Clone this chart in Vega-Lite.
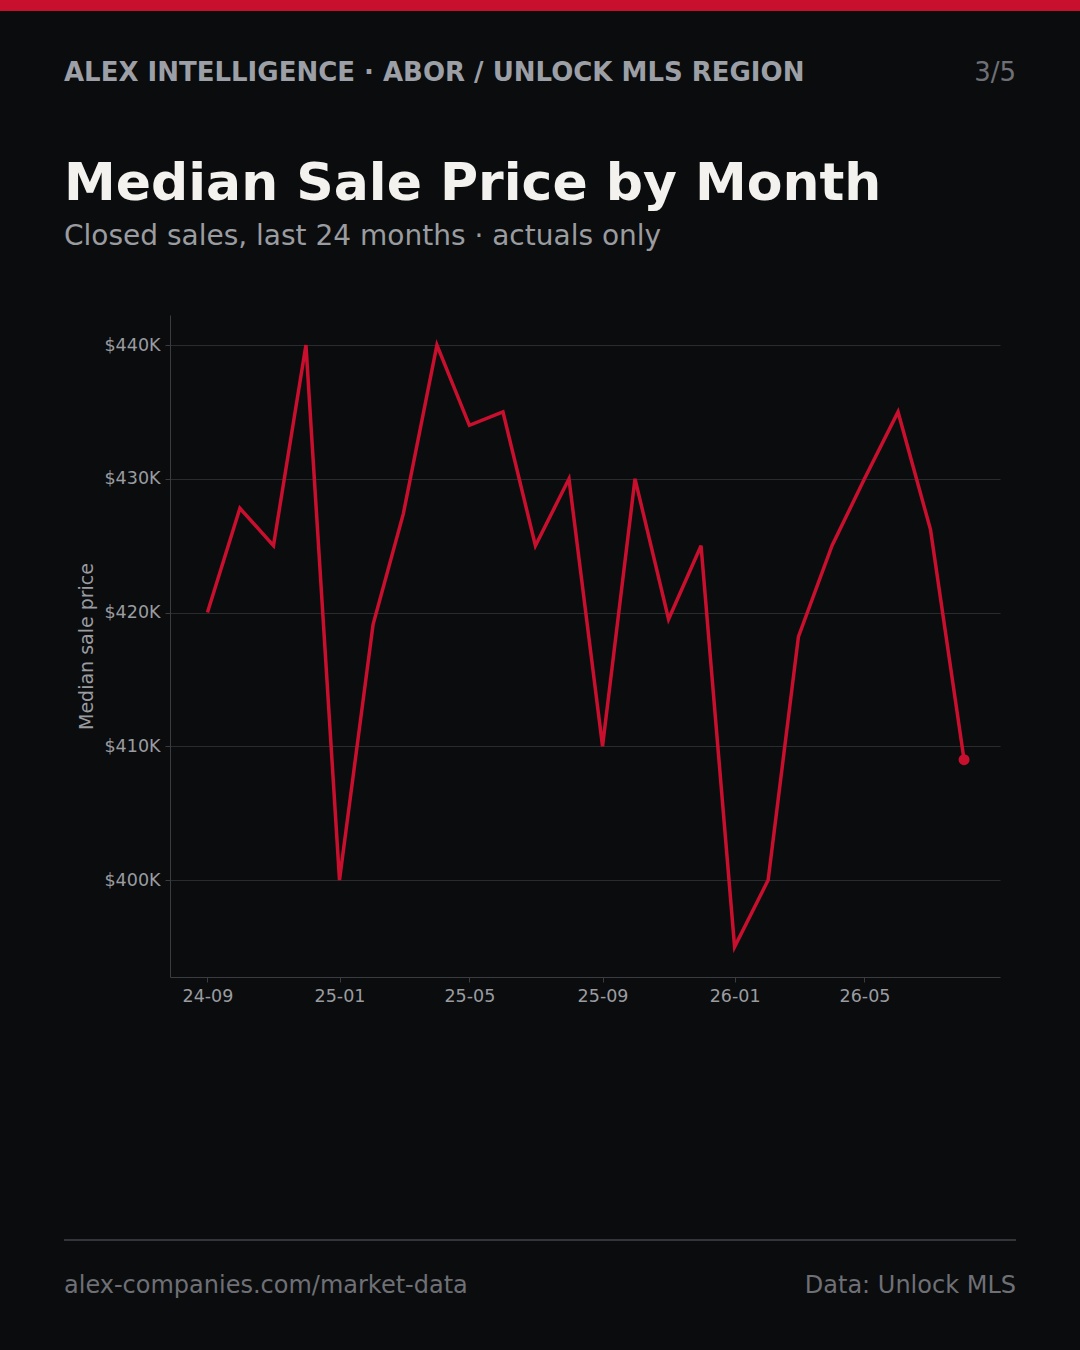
{
  "$schema": "https://vega.github.io/schema/vega-lite/v6.json",
  "width": 830,
  "height": 662,
  "autosize": {"type": "none"},
  "padding": {"left": 170, "top": 315, "right": 80, "bottom": 373},
  "background": "#0b0c0e",
  "config": {
    "font": "DejaVu Sans",
    "view": {"stroke": null}
  },
  "datasets": {
    "prices": [
      {"month": "2024-09-01", "price": 420000},
      {"month": "2024-10-01", "price": 427800},
      {"month": "2024-11-01", "price": 425000},
      {"month": "2024-12-01", "price": 440000},
      {"month": "2025-01-01", "price": 400000},
      {"month": "2025-02-01", "price": 419100},
      {"month": "2025-03-01", "price": 427400},
      {"month": "2025-04-01", "price": 440000},
      {"month": "2025-05-01", "price": 434000},
      {"month": "2025-06-01", "price": 435000},
      {"month": "2025-07-01", "price": 425000},
      {"month": "2025-08-01", "price": 430000},
      {"month": "2025-09-01", "price": 410000},
      {"month": "2025-10-01", "price": 430000},
      {"month": "2025-11-01", "price": 419500},
      {"month": "2025-12-01", "price": 425000},
      {"month": "2026-01-01", "price": 395000},
      {"month": "2026-02-01", "price": 400000},
      {"month": "2026-03-01", "price": 418200},
      {"month": "2026-04-01", "price": 425000},
      {"month": "2026-05-01", "price": 430000},
      {"month": "2026-06-01", "price": 435000},
      {"month": "2026-07-01", "price": 426200},
      {"month": "2026-08-01", "price": 409000}
    ]
  },
  "layer": [
    {
      "data": {"name": "prices"},
      "mark": {"type": "line", "color": "#c8102e", "strokeWidth": 3.5, "strokeJoin": "miter"},
      "encoding": {
        "x": {
          "field": "month",
          "type": "temporal",
          "scale": {"type": "utc", "domain": [1722159360000, 1788410880000], "nice": false},
          "axis": {
            "values": [1725148800000, 1735689600000, 1746057600000, 1756684800000, 1767225600000, 1777593600000],
            "labelExpr": "utcFormat(datum.value, '%y-%m')",
            "labelAngle": 0,
            "labelFontSize": 17.5,
            "labelColor": "#9a9ca0",
            "labelPadding": 5,
            "labelFlush": false,
            "labelOverlap": false,
            "tickSize": 5,
            "tickColor": "#3a3c40",
            "domainColor": "#3a3c40",
            "grid": false,
            "title": null
          }
        },
        "y": {
          "field": "price",
          "type": "quantitative",
          "scale": {"domain": [392750, 442250], "nice": false, "zero": false},
          "axis": {
            "values": [400000, 410000, 420000, 430000, 440000],
            "labelExpr": "'$' + format(datum.value / 1000, 'd') + 'K'",
            "labelFontSize": 17.5,
            "labelColor": "#9a9ca0",
            "labelPadding": 5,
            "tickSize": 5,
            "tickColor": "#3a3c40",
            "domainColor": "#3a3c40",
            "gridColor": "#2a2b2e",
            "title": "Median sale price",
            "titleFontSize": 19,
            "titleFontWeight": "normal",
            "titleColor": "#9a9ca0",
            "titlePadding": 7
          }
        }
      }
    },
    {
      "data": {"name": "prices"},
      "transform": [{"filter": "utcyear(datum.month) == 2026 && utcmonth(datum.month) == 7"}],
      "mark": {"type": "point", "filled": true, "color": "#c8102e", "size": 120, "opacity": 1},
      "encoding": {
        "x": {"field": "month", "type": "temporal"},
        "y": {"field": "price", "type": "quantitative"}
      }
    },
    {
      "data": {"values": [{}]},
      "mark": {"type": "rect", "color": "#c8102e"},
      "encoding": {
        "x": {"value": -170},
        "x2": {"value": 910},
        "y": {"value": -315},
        "y2": {"value": -304}
      }
    },
    {
      "data": {"values": [{}]},
      "mark": {"type": "text", "text": "ALEX INTELLIGENCE · ABOR / UNLOCK MLS REGION", "align": "left", "baseline": "alphabetic", "fontSize": 26, "fontWeight": "bold", "color": "#9ca0a6"},
      "encoding": {"x": {"value": -106}, "y": {"value": -234}}
    },
    {
      "data": {"values": [{}]},
      "mark": {"type": "text", "text": "3/5", "align": "right", "baseline": "alphabetic", "fontSize": 26, "color": "#6e7075"},
      "encoding": {"x": {"value": 846}, "y": {"value": -234}}
    },
    {
      "data": {"values": [{}]},
      "mark": {"type": "text", "text": "Median Sale Price by Month", "align": "left", "baseline": "alphabetic", "fontSize": 52, "fontWeight": "bold", "color": "#f3f2ee"},
      "encoding": {"x": {"value": -106}, "y": {"value": -115}}
    },
    {
      "data": {"values": [{}]},
      "mark": {"type": "text", "text": "Closed sales, last 24 months · actuals only", "align": "left", "baseline": "alphabetic", "fontSize": 28, "color": "#9a9ca0"},
      "encoding": {"x": {"value": -106}, "y": {"value": -70}}
    },
    {
      "data": {"values": [{}]},
      "mark": {"type": "rule", "color": "#333539", "strokeWidth": 2},
      "encoding": {"x": {"value": -106}, "x2": {"value": 846}, "y": {"value": 925}}
    },
    {
      "data": {"values": [{}]},
      "mark": {"type": "text", "text": "alex-companies.com/market-data", "align": "left", "baseline": "alphabetic", "fontSize": 24, "color": "#6e7075"},
      "encoding": {"x": {"value": -106}, "y": {"value": 978}}
    },
    {
      "data": {"values": [{}]},
      "mark": {"type": "text", "text": "Data: Unlock MLS", "align": "right", "baseline": "alphabetic", "fontSize": 24, "color": "#6e7075"},
      "encoding": {"x": {"value": 846}, "y": {"value": 978}}
    }
  ]
}
